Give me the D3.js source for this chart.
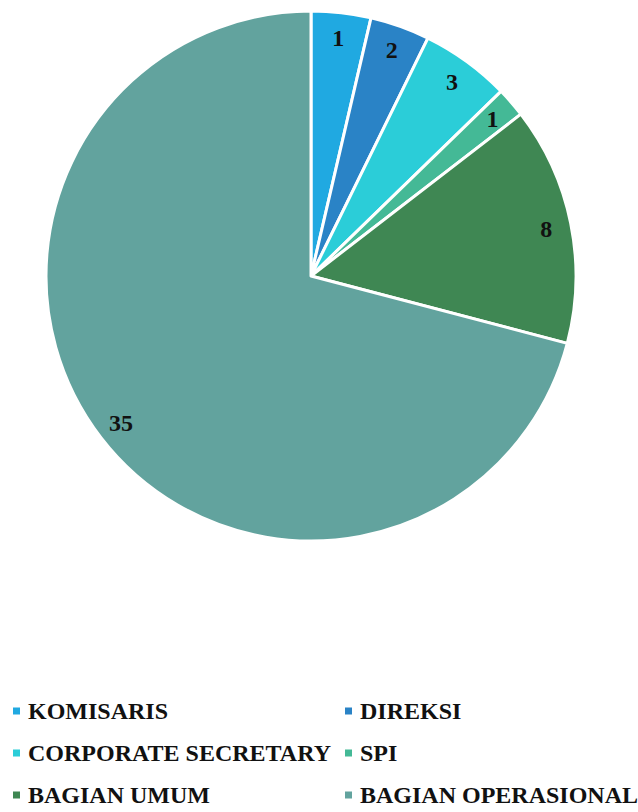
<!DOCTYPE html>
<html>
<head>
<meta charset="utf-8">
<script src="https://cdn.jsdelivr.net/npm/d3@7"></script>
<style>
  body { margin: 0; background: #fff; }
  text { font-family: "Liberation Serif", "Times New Roman", serif; font-weight: bold; fill: #111; }
</style>
</head>
<body>
<svg width="638" height="812"></svg>
<script>
// Categories and values (slice sizes, label texts as printed)
var categories = ["KOMISARIS", "DIREKSI", "CORPORATE SECRETARY", "SPI", "BAGIAN UMUM", "BAGIAN OPERASIONAL"];
var sliceValues = [2, 2, 3, 1, 8, 39];
var dataLabels = ["1", "2", "3", "1", "8", "35"];
var colors = ["#20a9e1", "#2a83c6", "#2bcdd8", "#44b996", "#3f8753", "#62a39e"];

var svg = d3.select("svg");
var cx = 311, cy = 276, radius = 265, labelRadius = 240;

var color = d3.scaleOrdinal().domain(categories).range(colors);

var pie = d3.pie().sort(null).value(function(d) { return d.value; });
var data = categories.map(function(c, i) {
    return { name: c, value: sliceValues[i], label: dataLabels[i] };
});
var arcs = pie(data);

var arc = d3.arc().innerRadius(0).outerRadius(radius);
var labelArc = d3.arc().innerRadius(labelRadius).outerRadius(labelRadius);

var g = svg.append("g").attr("transform", `translate(${cx},${cy})`);

g.selectAll("path")
    .data(arcs)
    .enter().append("path")
    .attr("d", arc)
    .attr("fill", function(d) { return color(d.data.name); })
    .attr("stroke", "#fff")
    .attr("stroke-width", 3)
    .attr("stroke-linejoin", "round");

g.selectAll("text.lbl")
    .data(arcs)
    .enter().append("text")
    .attr("class", "lbl")
    .attr("transform", function(d) { return `translate(${labelArc.centroid(d)})`; })
    .attr("text-anchor", "middle")
    .attr("dy", "0.35em")
    .style("font-size", "24px")
    .text(function(d) { return d.data.label; });

// Legend: two columns, three rows
var legendX = d3.scaleOrdinal().domain([0, 1]).range([13, 345]);
var legendY = d3.scalePoint().domain([0, 1, 2]).range([711, 795]);

var legend = svg.append("g")
    .selectAll("g")
    .data(categories)
    .enter().append("g")
    .attr("transform", function(d, i) {
        return `translate(${legendX(i % 2)},${legendY(Math.floor(i / 2))})`;
    });

legend.append("rect")
    .attr("x", 0)
    .attr("y", -3.5)
    .attr("width", 7)
    .attr("height", 7)
    .attr("fill", function(d) { return color(d); });

legend.append("text")
    .attr("x", 15)
    .attr("y", 8)
    .style("font-size", "24px")
    .text(function(d) { return d; });
</script>
</body>
</html>
